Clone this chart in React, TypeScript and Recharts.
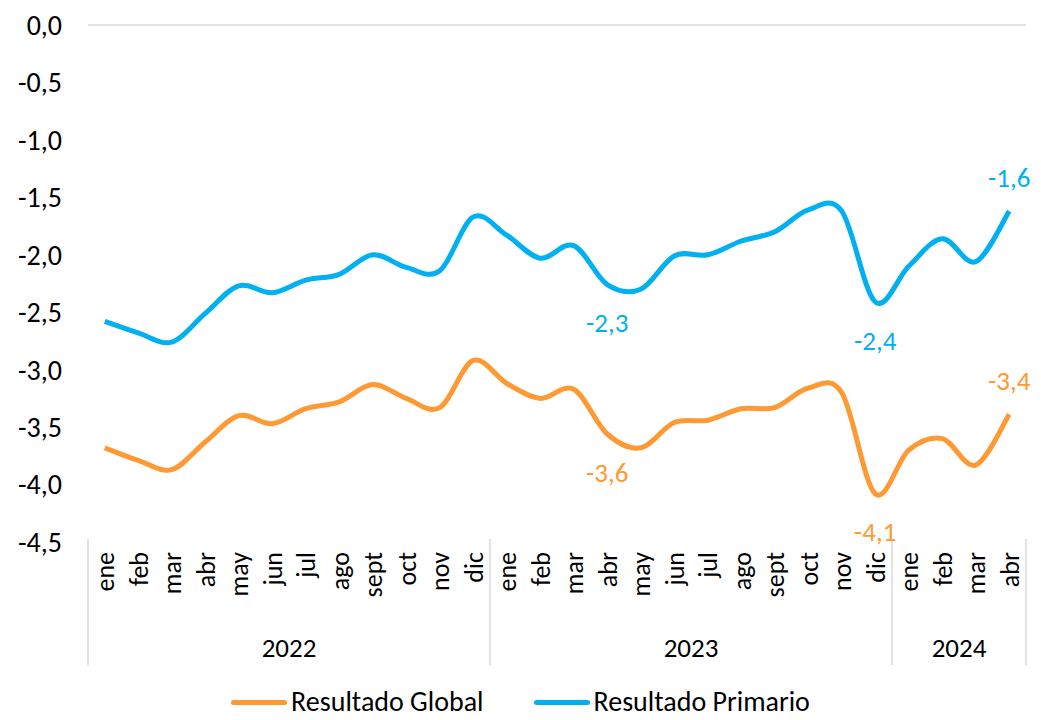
import React from 'react';
import { LineChart, Line, XAxis, YAxis, ReferenceLine, Legend, LabelList } from 'recharts';

const months = ['ene','feb','mar','abr','may','jun','jul','ago','sept','oct','nov','dic','ene','feb','mar','abr','may','jun','jul','ago','sept','oct','nov','dic','ene','feb','mar','abr'];
const years = [
  { label: '2022', count: 12 },
  { label: '2023', count: 12 },
  { label: '2024', count: 4 },
];
const resultadoGlobal = [-3.68,-3.79,-3.87,-3.63,-3.40,-3.47,-3.34,-3.28,-3.13,-3.25,-3.33,-2.92,-3.12,-3.25,-3.17,-3.56,-3.68,-3.46,-3.44,-3.34,-3.33,-3.16,-3.20,-4.08,-3.70,-3.60,-3.83,-3.39];
const resultadoPrimario = [-2.58,-2.68,-2.76,-2.51,-2.27,-2.33,-2.22,-2.17,-2.00,-2.11,-2.14,-1.67,-1.83,-2.03,-1.92,-2.26,-2.30,-2.01,-2.00,-1.88,-1.80,-1.61,-1.62,-2.41,-2.10,-1.86,-2.06,-1.62];
const yTicks = [0, -0.5, -1, -1.5, -2, -2.5, -3, -3.5, -4, -4.5];
const labeledPoints: Record<number, 'above' | 'below'> = { 15: 'below', 23: 'below', 27: 'above' };

const ORANGE = '#FF9933';
const BLUE = '#00B0F0';
const FONT = 'Calibri, Carlito, Lato, sans-serif';
const HALF_BAND = 16.75;

const data = months.map((m, i) => ({
  idx: i,
  month: m,
  global: resultadoGlobal[i],
  primario: resultadoPrimario[i],
}));

const groupStarts: Record<number, { label: string; count: number }> = {};
{
  let s = 0;
  years.forEach((y) => {
    groupStarts[s] = y;
    s += y.count;
  });
}

const fmt = (v: number) => v.toFixed(1).replace('.', ',');

function excelSmooth(context: any) {
  let pts: number[][] = [];
  return {
    areaStart() {},
    areaEnd() {},
    lineStart() { pts = []; },
    lineEnd() {
      if (!pts.length) return;
      context.moveTo(pts[0][0], pts[0][1]);
      for (let i = 0; i < pts.length - 1; i++) {
        const p0 = pts[i - 1] || pts[i];
        const p1 = pts[i];
        const p2 = pts[i + 1];
        const p3 = pts[i + 2] || p2;
        context.bezierCurveTo(
          p1[0] + (p2[0] - p0[0]) / 6, p1[1] + (p2[1] - p0[1]) / 6,
          p2[0] - (p3[0] - p1[0]) / 6, p2[1] - (p3[1] - p1[1]) / 6,
          p2[0], p2[1]
        );
      }
    },
    point(x: number, y: number) { pts.push([+x, +y]); },
  };
}

const MonthTick = (props: any) => {
  const { x, y, payload, index } = props;
  const half = HALF_BAND;
  const i = payload?.index ?? index;
  const axisY = y - 11;
  const items: React.ReactNode[] = [];
  items.push(
    <text key="m" x={x} y={axisY + 13} transform={`rotate(-90, ${x}, ${axisY + 13})`} textAnchor="end" dy="0.36em" fontSize={26} fontFamily={FONT} fill="#000">
      {payload.value}
    </text>
  );
  const g = groupStarts[i];
  if (g) {
    const left = x - half;
    items.push(<line key="s" x1={left} x2={left} y1={axisY} y2={axisY + 126} stroke="#D9D9D9" strokeWidth={1.5} />);
    items.push(
      <text key="y" x={left + g.count * half} y={axisY + 108} textAnchor="middle" dy="0.36em" fontSize={27} fontFamily={FONT} fill="#000">
        {g.label}
      </text>
    );
  }
  if (i === months.length - 1) {
    const right = x + half;
    items.push(<line key="e" x1={right} x2={right} y1={axisY} y2={axisY + 126} stroke="#D9D9D9" strokeWidth={1.5} />);
  }
  return <g>{items}</g>;
};

const makeLabel = (color: string) => (props: any) => {
  const { x, y, index, value } = props;
  const pos = labeledPoints[index];
  if (!pos) return null;
  return (
    <text x={x} y={pos === 'below' ? y + 38 : y - 34} textAnchor="middle" dy="0.36em" fontSize={27} fontFamily={FONT} fill={color}>
      {fmt(value)}
    </text>
  );
};

const LegendContent = () => (
  <div style={{ display: 'flex', justifyContent: 'center', gap: 50, fontFamily: FONT, fontSize: 28, color: '#000', lineHeight: '30px' }}>
    {[{ c: ORANGE, t: 'Resultado Global' }, { c: BLUE, t: 'Resultado Primario' }].map((it) => (
      <div key={it.t} style={{ display: 'flex', alignItems: 'center' }}>
        <span style={{ display: 'inline-block', width: 56, height: 5, borderRadius: 3, background: it.c, marginRight: 4 }} />
        <span>{it.t}</span>
      </div>
    ))}
  </div>
);

export default function App() {
  return (
    <div style={{ position: 'absolute', left: 0, top: 0, background: '#fff' }}>
      <LineChart width={1041} height={720} data={data} margin={{ top: 25, right: 15, left: 0, bottom: 0 }}>
        <XAxis dataKey="month" padding={{ left: HALF_BAND, right: HALF_BAND }} interval={0} height={178} axisLine={false} tickLine={false} tick={<MonthTick />} />
        <YAxis domain={[-4.5, 0]} ticks={yTicks} width={88} axisLine={false} tickLine={false} tickMargin={20}
          tickFormatter={fmt} tick={{ fontSize: 28, fontFamily: FONT, fill: '#000' }} interval={0} />
        <ReferenceLine y={0} stroke="#D9D9D9" strokeWidth={1.5} />
        <Legend verticalAlign="middle" layout="horizontal" content={<LegendContent />} wrapperStyle={{ top: 687, left: 0, width: 1041 }} />
        <Line dataKey="global" name="Resultado Global" stroke={ORANGE} strokeWidth={5} dot={false} type={excelSmooth as any} isAnimationActive={false}>
          <LabelList dataKey="global" content={makeLabel(ORANGE)} />
        </Line>
        <Line dataKey="primario" name="Resultado Primario" stroke={BLUE} strokeWidth={5} dot={false} type={excelSmooth as any} isAnimationActive={false}>
          <LabelList dataKey="primario" content={makeLabel(BLUE)} />
        </Line>
      </LineChart>
    </div>
  );
}
